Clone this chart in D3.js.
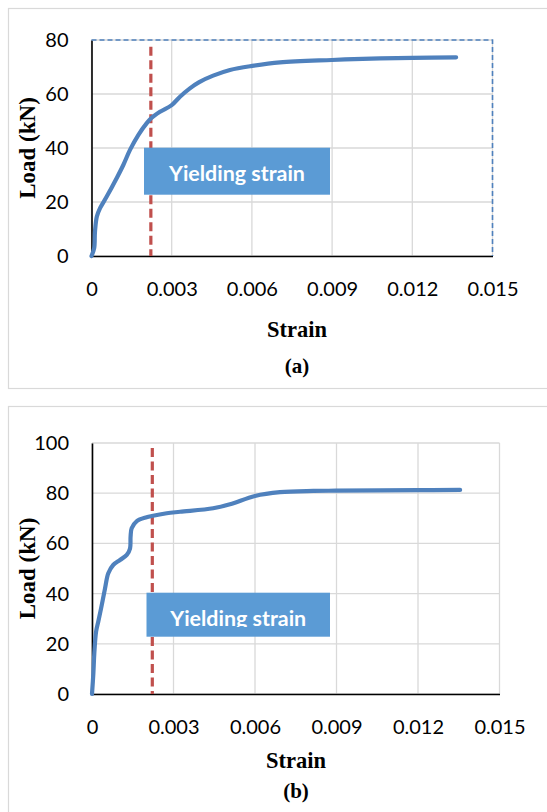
<!DOCTYPE html>
<html><head><meta charset="utf-8">
<script src="https://cdn.jsdelivr.net/npm/d3@7"></script>
<style>body{margin:0;background:#fff} svg{display:block}</style>
</head><body><svg id="c" width="547" height="812"></svg>
<script>
// ---------- data ----------
const strainA = [0,0.0001,0.00013,0.0002,0.00032,0.00057,0.00094,0.00119,0.00144,0.00175,0.00206,0.00223,0.00256,0.0030,0.00331,0.00368,0.00403,0.00455,0.00518,0.00601,0.00705,0.00899,0.0108,0.0120,0.01364];
const loadA   = [0,2.9,9.0,14.6,17.7,22.0,28.8,33.7,39.3,44.8,49.1,51.0,53.4,55.9,59.0,62.1,64.4,66.8,68.9,70.4,71.7,72.6,73.2,73.4,73.6];
const strainB = [0,0.00005,0.000085,0.00015,0.00023,0.00036,0.00048,0.0006,0.00078,0.00103,0.00128,0.0014,0.00142,0.00146,0.00165,0.00201,0.0022,0.00275,0.00324,0.00446,0.00508,0.006,0.00692,0.00815,0.00898,0.012,0.01355];
const loadB   = [0,8.2,16.2,24.8,28.8,35.5,42.1,48.1,51.4,53.4,55.4,58.0,62.7,66.0,68.9,70.4,70.9,72.0,72.6,74.0,75.6,78.9,80.4,80.9,81.0,81.2,81.3];
const yieldStrain = 0.00222;
const yieldTopA = 77.5, yieldTopB = 98;
const xTicks = [0,0.003,0.006,0.009,0.012,0.015];
const xTickLabels = ["0","0.003","0.006","0.009","0.012","0.015"];
const yTicksA = [0,20,40,60,80];
const yTicksB = [0,20,40,60,80,100];
const borderA = [[0,80],[0.015,80],[0.015,0]]; // dashed series in (a)

// ---------- layout ----------
const svg = d3.select("#c");
const numFont = "Lato, 'Open Sans', sans-serif";
const serif = "'Liberation Serif','Times New Roman',serif";

function panel(cfg){
  const x = d3.scaleLinear().domain([0,0.015]).range([cfg.x0,cfg.x1]);
  const y = d3.scaleLinear().domain([0,cfg.ymax]).range([cfg.yb,cfg.yt]);
  const g = svg.append("g");
  // frame
  g.append("rect").attr("x",8.5).attr("y",cfg.frameTop+0.5).attr("width",620).attr("height",cfg.frameH)
    .attr("fill","none").attr("stroke","#d9d9d9").attr("stroke-width",1.2);
  // grid
  g.append("g").selectAll("line").data(cfg.yTicks).join("line")
    .attr("x1",cfg.x0).attr("x2",cfg.x1).attr("y1",d=>y(d)).attr("y2",d=>y(d))
    .attr("stroke","#d9d9d9").attr("stroke-width",1.3);
  g.append("g").selectAll("line").data(xTicks).join("line")
    .attr("y1",cfg.yb).attr("y2",cfg.yt).attr("x1",d=>x(d)).attr("x2",d=>x(d))
    .attr("stroke","#d9d9d9").attr("stroke-width",1.3);
  // axes
  const ax = g.append("g").attr("transform",`translate(0,${cfg.yb})`)
    .call(d3.axisBottom(x).tickValues(xTicks).tickFormat((d,i)=>xTickLabels[i]).tickSize(0).tickPadding(25.5));
  const ay = g.append("g").attr("transform",`translate(${cfg.x0},0)`)
    .call(d3.axisLeft(y).tickValues(cfg.yTicks).tickSize(0).tickPadding(23));
  [ax,ay].forEach(a=>{
    a.select(".domain").attr("stroke","#000").attr("stroke-width",1.6);
    a.selectAll("text").attr("font-family",numFont).attr("font-size",20).attr("fill","#000");
  });
  // dashed border series (a)
  if(cfg.border){
    g.append("path").datum(cfg.border)
      .attr("d",d3.line().x(d=>x(d[0])).y(d=>y(d[1])))
      .attr("fill","none").attr("stroke","#4f81bd").attr("stroke-width",1.6).attr("stroke-dasharray","5,3");
  }
  // yield line
  g.append("line").attr("x1",x(yieldStrain)).attr("x2",x(yieldStrain))
    .attr("y1",y(cfg.yieldTop)).attr("y2",y(0))
    .attr("stroke","#c0504d").attr("stroke-width",3.2).attr("stroke-dasharray","9,4.5");
  // main curve
  g.append("path").datum(d3.zip(cfg.strain,cfg.load))
    .attr("d",d3.line().x(d=>x(d[0])).y(d=>y(d[1])).curve(d3.curveCatmullRom.alpha(0.5)))
    .attr("fill","none").attr("stroke","#4f81bd").attr("stroke-width",4.2)
    .attr("stroke-linecap","round").attr("stroke-linejoin","round");
  // yielding box
  const b = cfg.box;
  g.append("rect").attr("x",b.l).attr("y",b.t).attr("width",b.r-b.l).attr("height",b.b-b.t).attr("fill","#5b9bd5");
  const clipId = "clip"+cfg.id;
  g.append("clipPath").attr("id",clipId).append("rect")
    .attr("x",b.l).attr("y",b.t).attr("width",b.r-b.l).attr("height",b.clip-b.t);
  const t = g.append("text").attr("x",(b.l+b.r)/2).attr("y",b.base).attr("text-anchor","middle")
    .attr("font-family",numFont).attr("font-weight",700).attr("font-size",20).attr("fill","#fff")
    .attr("clip-path",`url(#${clipId})`).text("Yielding strain");
  const w = t.node().getComputedTextLength();
  t.attr("font-size",20*136/w);
  // titles
  g.append("text").attr("x",cfg.titleX).attr("y",cfg.strainBase).attr("text-anchor","middle")
    .attr("font-family",serif).attr("font-weight","bold").attr("font-size",22.5).text("Strain");
  g.append("text").attr("x",cfg.titleX).attr("y",cfg.capBase).attr("text-anchor","middle")
    .attr("font-family",serif).attr("font-weight","bold").attr("font-size",21).text(cfg.caption);
  g.append("text").attr("transform",`translate(34.5,${(cfg.yb+cfg.yt)/2}) rotate(-90)`).attr("text-anchor","middle")
    .attr("font-family",serif).attr("font-weight","bold").attr("font-size",23).text("Load (kN)");
}

panel({id:"a",x0:91.5,x1:492.5,yb:256,yt:40,ymax:80,yTicks:yTicksA,strain:strainA,load:loadA,
  yieldTop:yieldTopA,border:borderA,frameTop:8,frameH:380,
  box:{l:144,r:330,t:147.7,b:194.7,base:181,clip:194.7},
  titleX:297,strainBase:336.5,capBase:373,caption:"(a)"});
panel({id:"b",x0:92,x1:499.5,yb:694,yt:443,ymax:100,yTicks:yTicksB,strain:strainB,load:loadB,
  yieldTop:yieldTopB,border:null,frameTop:406,frameH:500,
  box:{l:146.5,r:330,t:592.7,b:636.7,base:625.5,clip:627},
  titleX:296,strainBase:768,capBase:798,caption:"(b)"});
</script></body></html>
